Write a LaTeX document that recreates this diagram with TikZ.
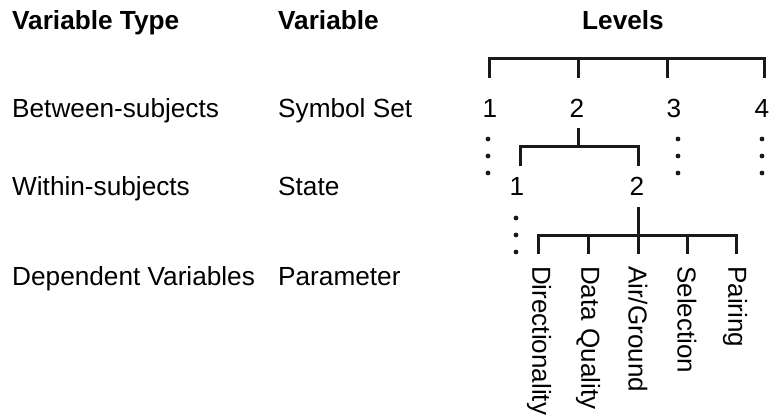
\documentclass[tikz,border=0pt]{standalone}
\usepackage{fontspec}
\setmainfont{Liberation Sans}
\begin{document}
\begin{tikzpicture}[x=1pt,y=-1pt,
  lbl/.style={anchor=base west,inner sep=0pt,font=\fontsize{26.2}{30}\selectfont},
  hdr/.style={lbl,font=\fontsize{26.2}{30}\selectfont\bfseries},
  num/.style={anchor=base,inner sep=0pt,font=\fontsize{26.2}{30}\selectfont},
  vlbl/.style={anchor=west,rotate=-90,inner sep=0pt,font=\fontsize{26}{30}\selectfont},
  tree/.style={line width=3pt,line join=miter,black!90},
  dotc/.style={circle,fill=black!90,inner sep=0pt,minimum size=4.8pt}]
\useasboundingbox (0,0) rectangle (771,415);
% headers
\node[hdr] (h1) at (12,29) {Variable Type};
\node[hdr] (h2) at (278,29) {Variable};
\node[num,font=\fontsize{26.2}{30}\selectfont\bfseries] (h3) at (623,29) {Levels};
% rows
\node[lbl] (r1a) at (12,117) {Between-subjects};
\node[lbl] (r1b) at (278,117) {Symbol Set};
\node[lbl] (r2a) at (12,195) {Within-subjects};
\node[lbl] (r2b) at (278,195) {State};
\node[lbl] (r3a) at (12,285) {Dependent Variables};
\node[lbl] (r3b) at (278,285) {Parameter};
% top tree
\coordinate (t1) at (489,58); \coordinate (t2) at (578,58);
\coordinate (t3) at (667,58); \coordinate (t4) at (764,58);
\coordinate (b1) at (489,78); \coordinate (b2) at (578,78);
\coordinate (b3) at (667,78); \coordinate (b4) at (764,78);
\draw[tree] (b1) -- (t1) -- (t4) -- (b4);
\draw[tree] (t2) -- (b2);
\draw[tree] (t3) -- (b3);
\node[num] (s1) at (490,117) {1};
\node[num] (s2) at (577,117) {2};
\node[num] (s3) at (674,117) {3};
\node[num] (s4) at (762,117) {4};
% dots
\foreach \y [count=\i] in {139,156,173}{
  \node[dotc] (d1\i) at (488,\y) {};
  \node[dotc] (d3\i) at (678,\y) {};
  \node[dotc] (d4\i) at (762,\y) {};
}
% state subtree
\coordinate (u0) at (578,128); \coordinate (u0b) at (578,146);
\coordinate (u1) at (520,146); \coordinate (u2) at (638,146);
\coordinate (v1) at (520,166); \coordinate (v2) at (638,166);
\draw[tree] (v1) -- (u1) -- (u2) -- (v2);
\draw[tree] (u0) -- (u0b);
\node[num] (st1) at (517,195) {1};
\node[num] (st2) at (637,195) {2};
\foreach \y [count=\i] in {218,235,252}{
  \node[dotc] (e\i) at (516,\y) {};
}
% parameter subtree
\coordinate (p0) at (638,207); \coordinate (p0b) at (638,235);
\coordinate (pa) at (538,235); \coordinate (pb) at (588,235);
\coordinate (pc) at (638,235); \coordinate (pd) at (687,235);
\coordinate (pe) at (736,235);
\coordinate (qa) at (538,254); \coordinate (qb) at (588,254);
\coordinate (qc) at (638,254); \coordinate (qd) at (687,254);
\coordinate (qe) at (736,254);
\draw[tree] (qa) -- (pa) -- (pe) -- (qe);
\draw[tree] (p0) -- (qc);
\draw[tree] (pb) -- (qb);
\draw[tree] (pd) -- (qd);
\node[vlbl] (la) at (539,266) {Directionality};
\node[vlbl] (lb) at (588,266) {Data Quality};
\node[vlbl] (lc) at (638,266) {Air/Ground};
\node[vlbl] (ld) at (687,266) {Selection};
\node[vlbl] (le) at (735,266) {Pairing};
\end{tikzpicture}
\end{document}
